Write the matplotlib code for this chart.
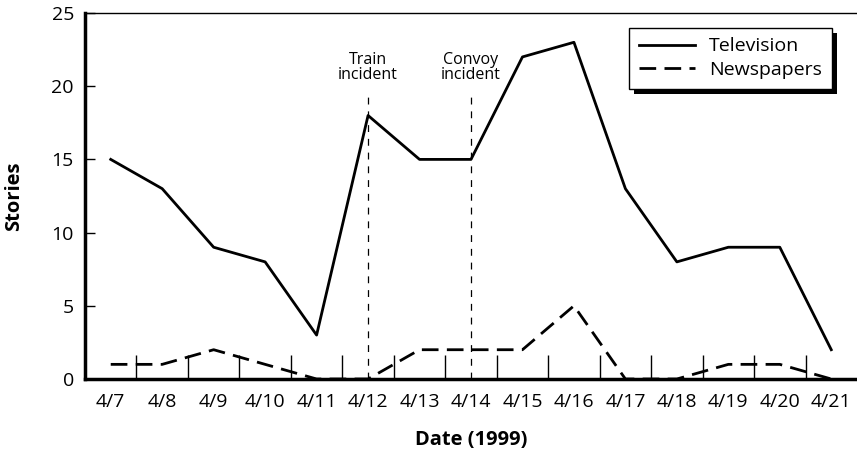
import numpy as np
import matplotlib
matplotlib.use("Agg")
import matplotlib.pyplot as plt
from matplotlib.patches import Rectangle

dates = ["4/7", "4/8", "4/9", "4/10", "4/11", "4/12", "4/13", "4/14",
         "4/15", "4/16", "4/17", "4/18", "4/19", "4/20", "4/21"]
television = [15, 13, 9, 8, 3, 18, 15, 15, 22, 23, 13, 8, 9, 9, 2]
newspapers = [1, 1, 2, 1, 0, 0, 2, 2, 2, 5, 0, 0, 1, 1, 0]
events = [("4/12", "Train\nincident"), ("4/14", "Convoy\nincident")]

plt.rcParams["font.family"] = ["Open Sans", "DejaVu Sans"]

fig = plt.figure(figsize=(8.57, 4.54), dpi=100)
ax = fig.add_axes([85/857, 1-379/454, 772/857, 366/454])
x = np.arange(len(dates))

ax.plot(x, television, "-", color="k", lw=2, label="Television", clip_on=False, zorder=4)
ax.plot(x, newspapers, color="k", lw=2, dashes=(6, 3), label="Newspapers", clip_on=False, zorder=4)

for d, txt in events:
    i = dates.index(d)
    ax.plot([i, i], [0, 19.5], color="k", lw=0.9, ls=(0, (5.5, 5.5)), zorder=3)
    ax.text(i, 20.2, txt, ha="center", va="bottom", fontsize=11.5, linespacing=0.95)

ax.set_xlim(-0.5, 14.5)
ax.set_ylim(0, 25)
ax.set_xticks(x)
ax.set_xticklabels(dates, fontsize=14)
ax.set_xticks(x[:-1] + 0.5, minor=True)
ax.tick_params(axis="x", which="major", length=0, pad=10)
ax.tick_params(axis="x", which="minor", direction="in", length=17, width=1)
ax.set_yticks([0, 5, 10, 15, 20, 25])
ax.tick_params(axis="y", direction="in", length=7, width=1, labelsize=14, pad=8)

for s in ["left", "bottom"]:
    ax.spines[s].set_linewidth(2.5)
ax.spines["top"].set_linewidth(1)
ax.spines["right"].set_visible(False)

ax.set_ylabel("Stories", fontsize=14.5, fontweight="bold", labelpad=20)
ax.set_xlabel("Date (1999)", fontsize=14.5, fontweight="bold", labelpad=14)

leg = ax.legend(loc="upper right", bbox_to_anchor=(0.967, 0.96), fontsize=14,
                frameon=True, fancybox=False, edgecolor="k", framealpha=1,
                handlelength=2.9, handletextpad=0.7, borderpad=0.5,
                labelspacing=0.3, borderaxespad=0)
leg.get_frame().set_linewidth(1)

# hard black drop shadow behind the legend box
fig.canvas.draw()
bb = leg.get_window_extent()
shadow = Rectangle((bb.x0 + 5, bb.y0 - 5), bb.width, bb.height,
                   transform=None, facecolor="k", edgecolor="none", zorder=4.9)
ax.add_artist(shadow)

fig.savefig("out.png", dpi=100)
